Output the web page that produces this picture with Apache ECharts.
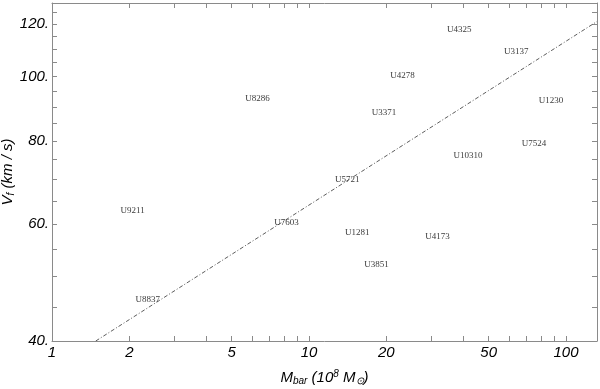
<!DOCTYPE html>
<html>
<head>
<meta charset="utf-8">
<script src="https://cdn.jsdelivr.net/npm/echarts@6/dist/echarts.min.js"></script>
<style>html,body{margin:0;padding:0;background:#fff}#c{width:600px;height:389px}</style>
</head>
<body>
<div id="c"></div>
<script>
const galaxies = ['U4325','U3137','U4278','U8286','U3371','U1230','U7524','U10310','U5721','U9211','U7603','U1281','U4173','U3851','U8837'];
const mbar = [38.4, 64.0, 23.1, 6.31, 19.6, 87.5, 75.1, 41.6, 14.1, 2.06, 8.18, 15.4, 31.6, 18.3, 2.36];
const vflat = [117.6, 108.9, 100.3, 92.6, 88.2, 91.9, 79.2, 76.0, 69.9, 62.8, 60.2, 58.2, 57.4, 52.2, 46.1];
const fitX = [1.48, 132];
const fitY = [40, 121];
const xLabels = [1, 2, 5, 10, 20, 50, 100];
const xTicks = [1,2,3,4,5,6,7,8,9,10,20,30,40,50,60,70,80,90,100];
const yLabels = [40, 60, 80, 100, 120];
const yTicks = [40,45,50,55,60,65,70,75,80,85,90,95,100,105,110,115,120,125];

const axisColor = '#8a8a8a';
const labFont = {fontFamily: 'Liberation Sans', fontStyle: 'italic', fontSize: 15, color: '#000'};

const chart = echarts.init(document.getElementById('c'), null, {renderer: 'canvas'});
chart.setOption({
  animation: false,
  backgroundColor: '#fff',
  grid: {left: 52, right: 3, top: 3, bottom: 48, containLabel: false, outerBoundsMode: 'none'},
  xAxis: [{
    type: 'log', logBase: 10, min: 1, max: 132, position: 'bottom',
    axisLine: {show: true, lineStyle: {color: axisColor, width: 1}},
    axisTick: {show: true, inside: true, length: 5, customValues: xTicks, lineStyle: {color: axisColor}},
    axisLabel: Object.assign({customValues: xLabels, margin: 4, formatter: v => String(Math.round(v))}, labFont),
    splitLine: {show: false}, minorTick: {show: false},
    name: '{i|M}{s|bar}{i| (10}{p|8}{i| M}{s|\u2299}{i|)}',
    nameLocation: 'middle', nameGap: 28, nameMoveOverlap: false,
    nameTextStyle: {rich: {
      i: {fontFamily: 'Liberation Sans', fontStyle: 'italic', fontSize: 15, color: '#000'},
      s: {fontFamily: 'Liberation Sans', fontStyle: 'italic', fontSize: 10, color: '#000', verticalAlign: 'bottom', padding: [7,0,0,0]},
      p: {fontFamily: 'Liberation Sans', fontStyle: 'italic', fontSize: 10, color: '#000', verticalAlign: 'top', padding: [0,0,7,0]}
    }}
  }, {
    type: 'log', logBase: 10, min: 1, max: 132, position: 'top',
    axisLine: {show: true, lineStyle: {color: axisColor, width: 1}},
    axisTick: {show: true, inside: true, length: 5, customValues: xTicks, lineStyle: {color: axisColor}},
    axisLabel: {show: false}, splitLine: {show: false}
  }],
  yAxis: [{
    type: 'log', logBase: 10, min: 40, max: 129, position: 'left',
    axisLine: {show: true, lineStyle: {color: axisColor, width: 1}},
    axisTick: {show: true, inside: true, length: 5, customValues: yTicks, lineStyle: {color: axisColor}},
    axisLabel: Object.assign({customValues: yLabels, margin: 3, formatter: v => Math.round(v) + '.'}, labFont),
    splitLine: {show: false},
    name: '{i|V}{s|f}{i| (km / s)}',
    nameLocation: 'middle', nameGap: 36, nameRotate: 90, nameMoveOverlap: false,
    nameTextStyle: {rich: {
      i: {fontFamily: 'Liberation Sans', fontStyle: 'italic', fontSize: 15, color: '#000'},
      s: {fontFamily: 'Liberation Sans', fontStyle: 'italic', fontSize: 10, color: '#000', verticalAlign: 'bottom', padding: [7,0,0,0]}
    }}
  }, {
    type: 'log', logBase: 10, min: 40, max: 129, position: 'right',
    axisLine: {show: true, lineStyle: {color: axisColor, width: 1}},
    axisTick: {show: true, inside: true, length: 5, customValues: yTicks, lineStyle: {color: axisColor}},
    axisLabel: {show: false}, splitLine: {show: false}
  }],
  series: [{
    type: 'line', xAxisIndex: 0, yAxisIndex: 0,
    data: fitX.map((x, i) => [x, fitY[i]]),
    symbol: 'none', silent: true,
    lineStyle: {color: '#333', width: 0.8, type: [4, 2, 1, 2]}
  }, {
    type: 'scatter', xAxisIndex: 0, yAxisIndex: 0,
    data: galaxies.map((g, i) => ({name: g, value: [mbar[i], vflat[i]]})),
    symbolSize: 2, itemStyle: {color: 'rgba(0,0,0,0)'},
    label: {show: true, position: 'inside', formatter: p => p.name,
      fontFamily: 'Liberation Serif', fontSize: 9, color: '#000'}
  }]
});
</script>
</body>
</html>
